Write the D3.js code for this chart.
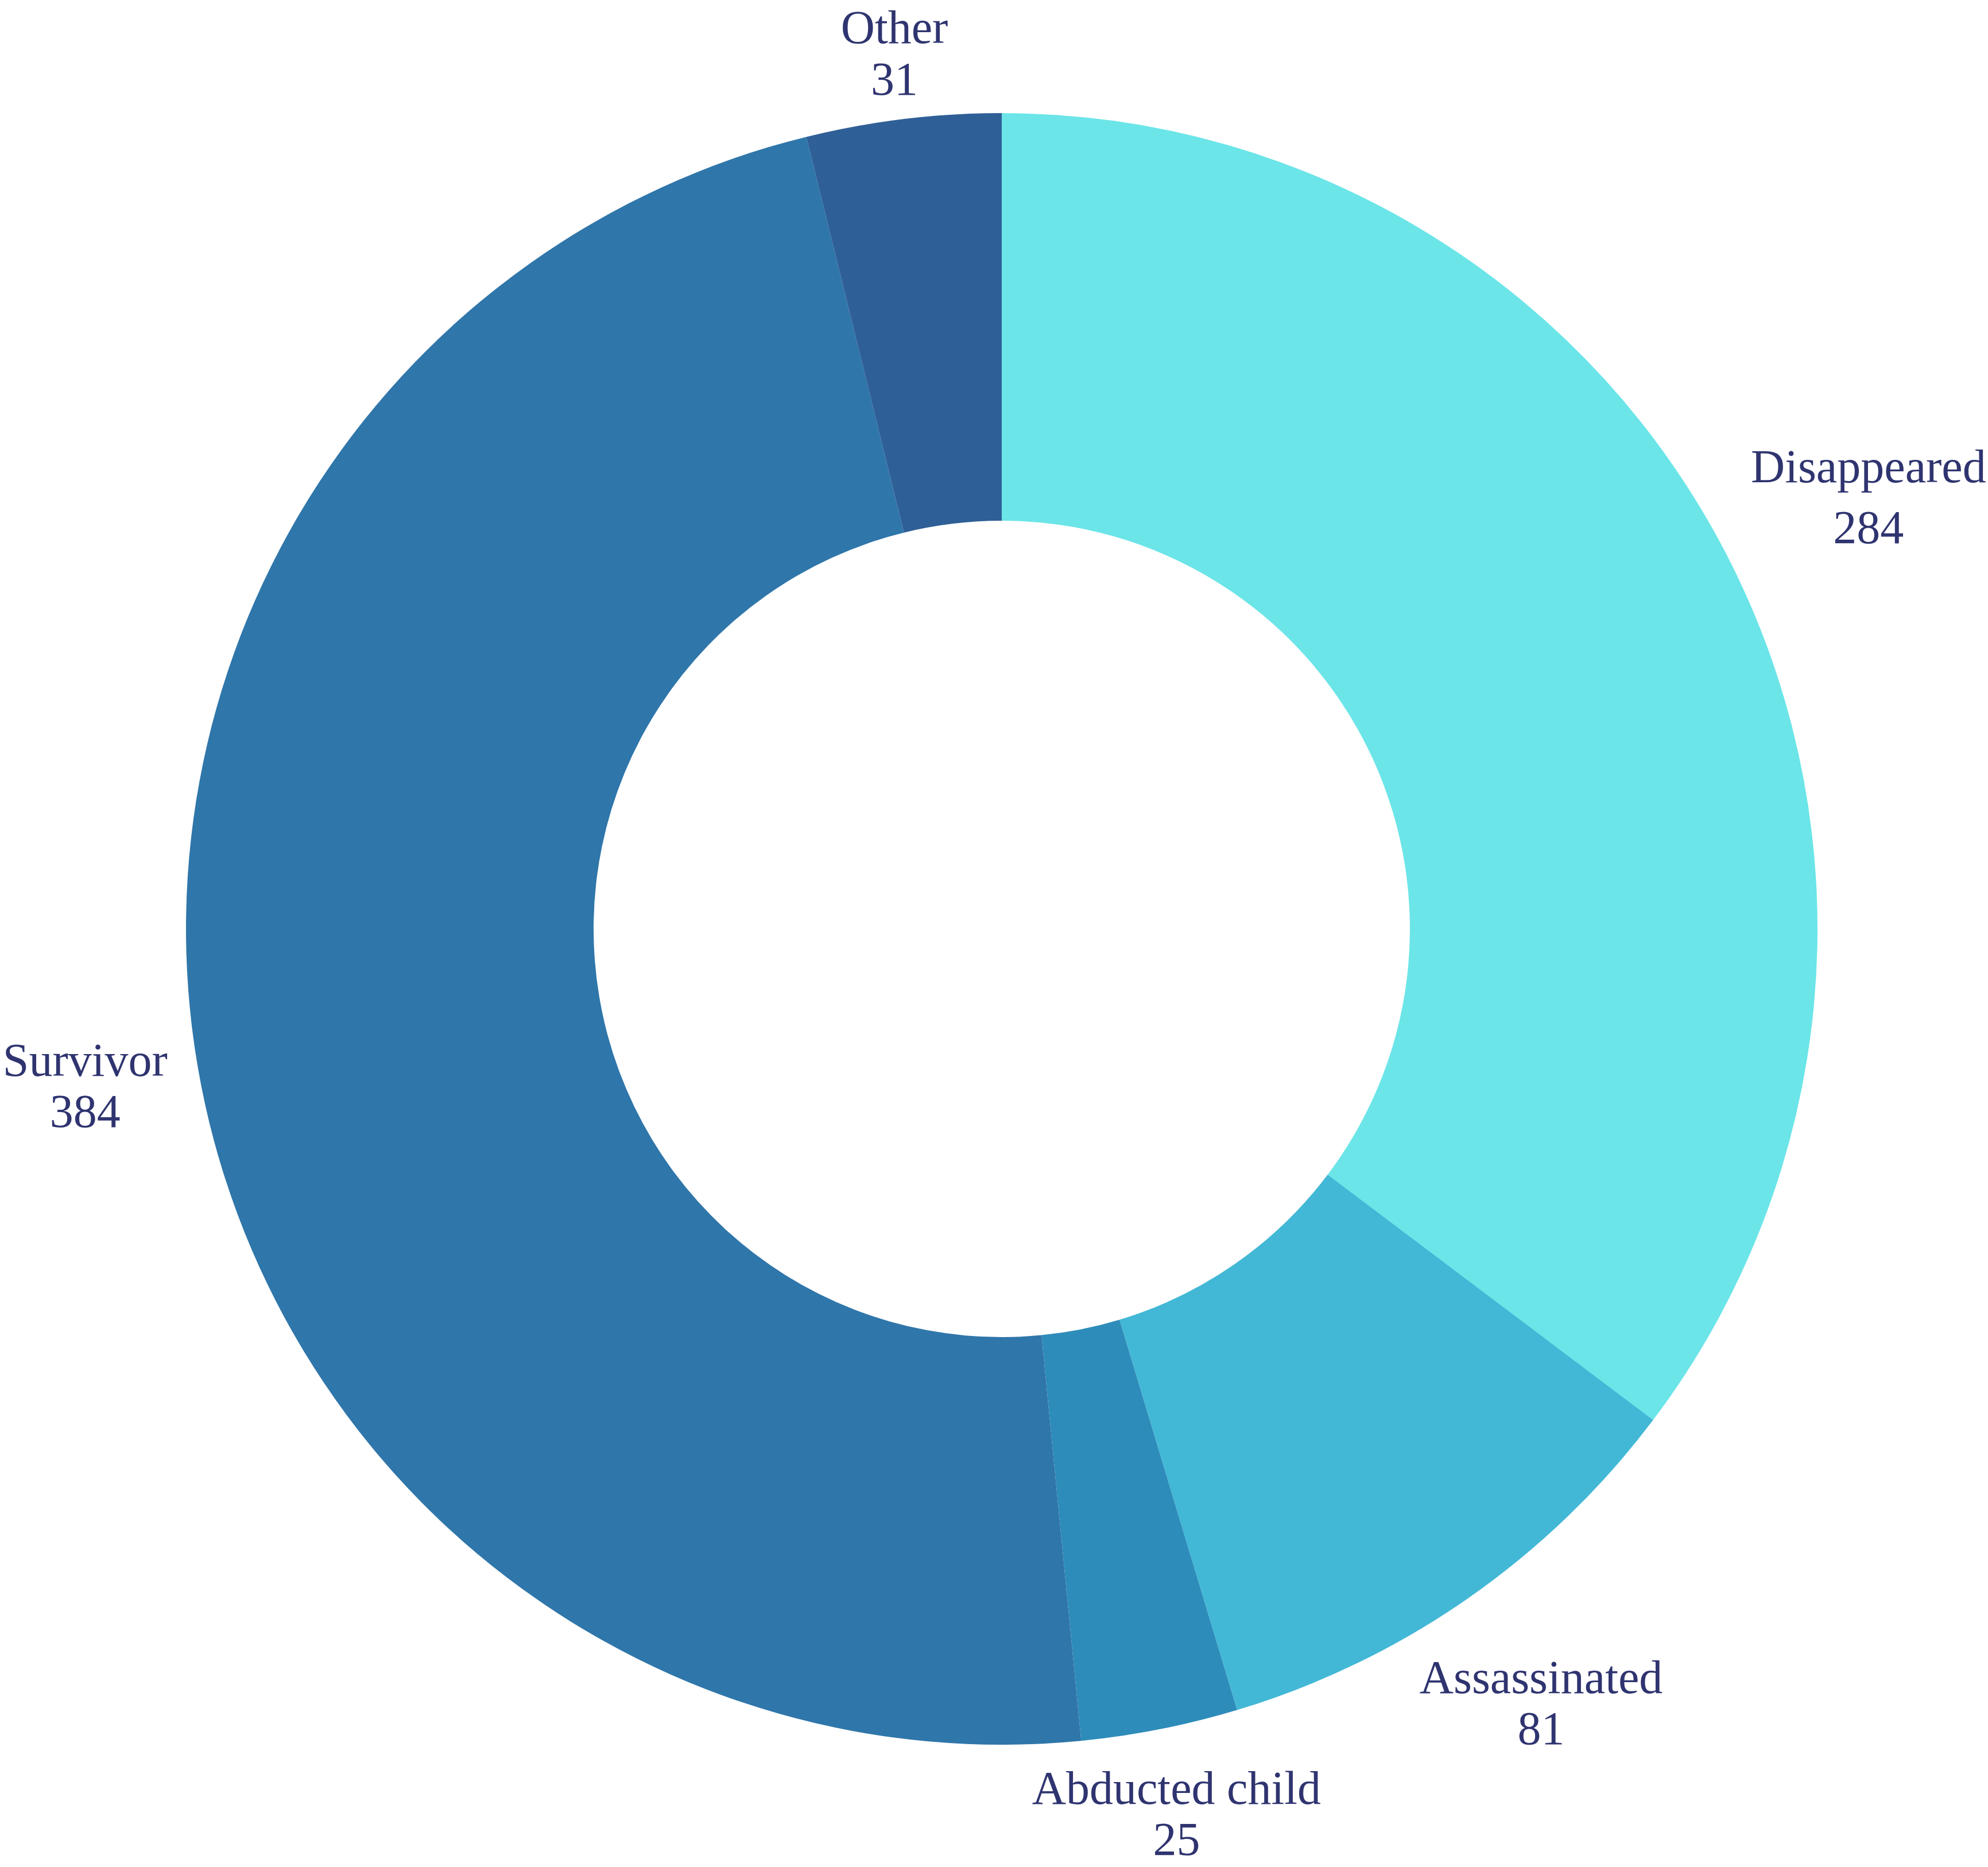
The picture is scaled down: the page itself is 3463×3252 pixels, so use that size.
<!DOCTYPE html>
<html><head><meta charset="utf-8">
<script src="https://cdn.jsdelivr.net/npm/d3@7"></script>
<style>html,body{margin:0;padding:0;background:#fff;overflow:hidden;}</style>
</head><body><svg id="chart"></svg>
<script>
// ---- data ----
const categories = ["Disappeared", "Assassinated", "Abducted child", "Survivor", "Other"];
const values = [284, 81, 25, 384, 31];
const sliceColors = ["#6be5e8", "#42b8d6", "#2e8cba", "#2f76aa", "#2f5f97"];

// ---- layout ----
const W = 3463, H = 3252;
const cx = 1745, cy = 1618;
const outerR = 1421, innerR = 711;
const fontSize = 82;
const fontFamily = "'Liberation Serif', 'Times New Roman', serif";
const textColor = "#2f3470";
const lineGap = 33;     // ink gap between the two label lines
const clearance = 46;   // ink gap between label box and the ring

const svg = d3.select("#chart").attr("width", W).attr("height", H)
  .attr("viewBox", `0 0 ${W} ${H}`);
const g = svg.append("g").attr("transform", `translate(${cx},${cy})`);

const data = categories.map((c, i) => ({ label: c, value: values[i], color: sliceColors[i] }));
const pie = d3.pie().value(d => d.value).sort(null).startAngle(0).endAngle(2 * Math.PI);
const arc = d3.arc().innerRadius(innerR).outerRadius(outerR);
const arcs = pie(data);

g.selectAll("path.slice").data(arcs).join("path")
  .attr("class", "slice")
  .attr("d", arc)
  .attr("fill", d => d.data.color);

// ---- labels ----
const ctx = document.createElement("canvas").getContext("2d");
ctx.font = `${fontSize}px 'Liberation Serif'`;
function metrics(s) {
  const m = ctx.measureText(s);
  return { w: m.width, asc: m.actualBoundingBoxAscent, desc: m.actualBoundingBoxDescent,
           fasc: m.fontBoundingBoxAscent || fontSize * 0.891 };
}
function nearestDist(x0, x1, y0, y1) {
  const nx = Math.max(x0, Math.min(0, x1));
  const ny = Math.max(y0, Math.min(0, y1));
  return Math.hypot(nx, ny);
}

arcs.forEach(a => {
  const l1 = a.data.label, l2 = String(a.data.value);
  const m1 = metrics(l1), m2 = metrics(l2);
  const base2 = m1.desc + lineGap + m2.asc;
  const top = -m1.asc, bottom = base2 + m2.desc;
  const midOff = (top + bottom) / 2;
  const hh = (bottom - top) / 2;
  const hw = Math.max(m1.w, m2.w) / 2;
  const ang = (a.startAngle + a.endAngle) / 2;
  const sx = Math.sin(ang), sy = -Math.cos(ang);
  let lo = 0, hi = outerR + 2000;
  for (let k = 0; k < 60; k++) {
    const t = (lo + hi) / 2;
    const px = t * sx, py = t * sy;
    const d = nearestDist(px - hw, px + hw, py - hh, py + hh);
    if (d < outerR + clearance) lo = t; else hi = t;
  }
  const t = (lo + hi) / 2;
  const px = t * sx;
  let base1 = t * sy - midOff;
  // keep the label's font box inside the picture
  const minBase = -cy + m1.fasc + 2;
  if (base1 < minBase) base1 = minBase;
  const txt = g.append("text")
    .attr("text-anchor", "middle")
    .attr("font-family", fontFamily)
    .attr("font-size", fontSize)
    .attr("fill", textColor);
  txt.append("tspan").attr("x", px).attr("y", base1).text(l1);
  txt.append("tspan").attr("x", px).attr("y", base1 + base2).text(l2);
});
</script>
</body></html>
